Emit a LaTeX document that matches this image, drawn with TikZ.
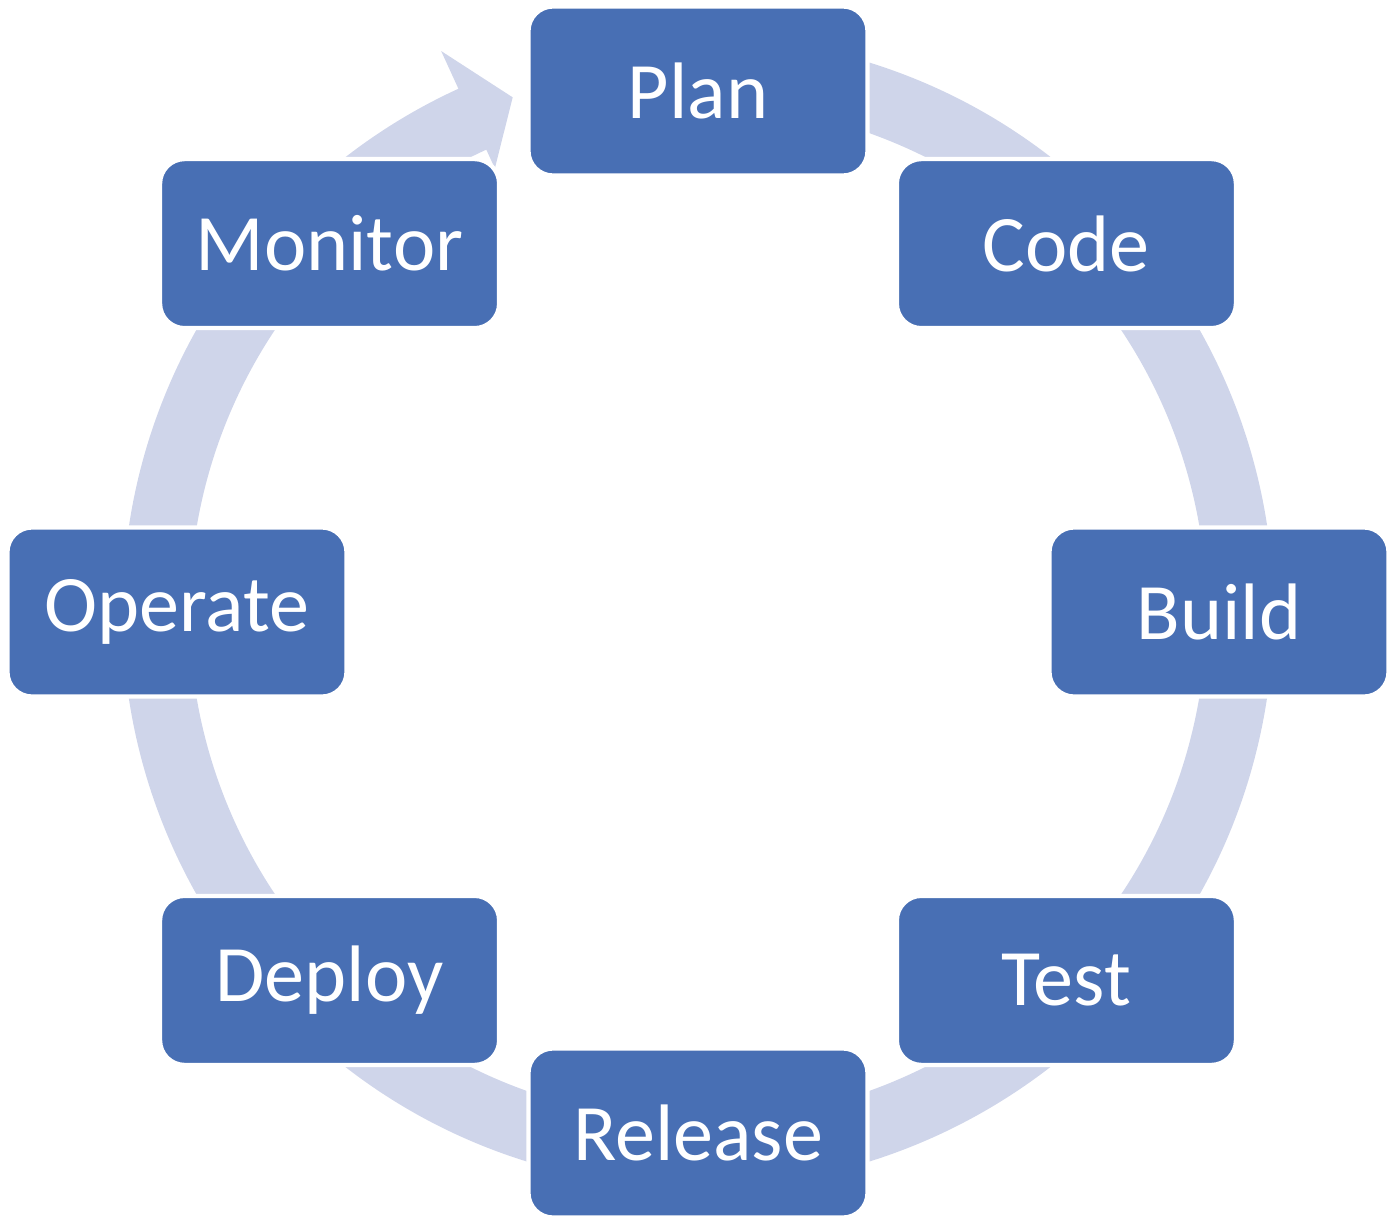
\documentclass[tikz,border=0pt]{standalone}
\usepackage{fontspec}
\setmainfont{Carlito}
\usepackage{xcolor}
\usepackage{tikz}
\usetikzlibrary{positioning}
\definecolor{Stage}{RGB}{72, 111, 180}
\definecolor{Ring}{RGB}{207, 213, 234}

\begin{document}
\begin{tikzpicture}[
    stage/.style={rectangle, rounded corners=7pt, draw=white, fill=Stage, text=white,
                  minimum height=1.69cm, minimum width=3.39cm, align=center,
                  font=\fontsize{22.8}{27}\selectfont, line width=1.2pt},
    ring/.style={line width=0.67cm, Ring},
]
\useasboundingbox (-6.98,-6.08) rectangle (7.02,6.12);

% cycle arrow behind the stages
\draw[ring] (80:5.42) arc[start angle=80, end angle=-247, radius=5.42];
\fill[Ring] (114.6:4.88) -- (109.8:5.47) -- (114.6:6.17) -- cycle;

\node[stage] (plan) at (90:5.21) {Plan};
\node[stage] (code) at (45:5.21) {Code};
\node[stage] (build) at (0:5.21) {Build};
\node[stage] (test) at (-45:5.21) {Test};
\node[stage] (release) at (-90:5.21) {Release};
\node[stage] (deploy) at (-135:5.21) {Deploy};
\node[stage] (operate) at (180:5.21) {Operate};
\node[stage] (monitor) at (135:5.21) {Monitor};
\end{tikzpicture}
\end{document}
